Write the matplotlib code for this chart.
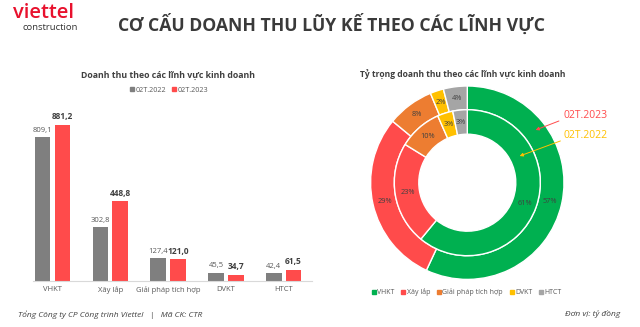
import matplotlib
matplotlib.use("Agg")
import matplotlib.pyplot as plt
from matplotlib.patches import Patch
from matplotlib.lines import Line2D

plt.rcParams['font.family'] = ['Open Sans', 'DejaVu Sans']

# ---- data ----
categories = ["VHKT", "Xây lắp", "Giải pháp tích hợp", "DVKT", "HTCT"]
rev_2022 = [809.1, 302.8, 127.4, 45.5, 42.4]
rev_2023 = [881.2, 448.8, 121.0, 34.7, 61.5]
series_names = ["02T.2022", "02T.2023"]

bar_colors = ["#7f7f7f", "#ff4b4b"]
pie_colors = ["#00b050", "#ff4b4b", "#ed7d31", "#ffc000", "#a5a5a5"]

W, H = 640, 327
fig = plt.figure(figsize=(6.4, 3.27), dpi=100)

def fx(x):
    return x / W

def fy(y):
    return 1 - y / H

def rect(l, t, r, b):
    return [fx(l), fy(b), (r - l) / W, (b - t) / H]

# ---- header ----
fig.text(fx(13), fy(12.5), "viettel", color="#e8112d", fontsize=14.5, fontweight="semibold",
         ha="left", va="center")
fig.text(fx(50), fy(28), "construction", color="#333333", fontsize=6.8,
         ha="center", va="center")
fig.text(fx(118), fy(24), "CƠ CẤU DOANH THU LŨY KẾ THEO CÁC LĨNH VỰC", color="#3a3a3a",
         fontsize=12.7, fontweight="bold", ha="left", va="center")

# ---- bar chart ----
unit = 57.8
ax = fig.add_axes(rect(33, 100.7, 312, 280.7))
x0 = -(52.5 - 33) / unit
ax.set_xlim(x0, x0 + (312 - 33) / unit)
ax.set_ylim(0, 180 / 0.177)
bw = 0.27
off = 0.17
xs = list(range(len(categories)))
ax.bar([x - off for x in xs], rev_2022, width=bw, color=bar_colors[0])
ax.bar([x + off for x in xs], rev_2023, width=bw, color=bar_colors[1])
for x, v in zip(xs, rev_2022):
    ax.annotate(f"{v:.1f}".replace(".", ","), (x - off, v), xytext=(0, 2.5),
                textcoords="offset points", ha="center", va="bottom",
                fontsize=5.5, color="#595959")
for x, v in zip(xs, rev_2023):
    ax.annotate(f"{v:.1f}".replace(".", ","), (x + off, v), xytext=(0, 2.5),
                textcoords="offset points", ha="center", va="bottom",
                fontsize=6, color="#404040", fontweight="bold")
ax.set_xticks(xs)
ax.set_xticklabels(categories, fontsize=5.5, color="#595959")
ax.tick_params(axis="x", length=0, pad=4)
ax.set_yticks([])
for s in ["top", "right", "left"]:
    ax.spines[s].set_visible(False)
ax.spines["bottom"].set_color("#d9d9d9")
ax.spines["bottom"].set_linewidth(0.8)

fig.text(fx(168), fy(75), "Doanh thu theo các lĩnh vực kinh doanh", fontsize=6.3,
         fontweight="bold", color="#404040", ha="center", va="center")
fig.legend([Patch(color=bar_colors[0]), Patch(color=bar_colors[1])], series_names,
           loc="center", bbox_to_anchor=(fx(169), fy(90)), ncol=2, frameon=False,
           fontsize=5.2, handlelength=0.5, handleheight=0.5, handletextpad=0.25,
           columnspacing=0.8, labelcolor="#595959")

# ---- donut chart ----
R = 96.7
cx, cy = 467.3, 182.7
half = 1.1 * R
axp = fig.add_axes(rect(cx - half, cy - half, cx + half, cy + half))
axp.set_aspect("equal")
axp.axis("off")

r_sep = 73 / R
r_hole = 48.5 / R
fmt = lambda p: f"{p:.0f}%"
axp.pie(rev_2023, radius=1.0, colors=pie_colors, startangle=90, counterclock=False,
        wedgeprops=dict(width=1.0 - r_sep, edgecolor="white", linewidth=1.0),
        autopct=fmt, pctdistance=(1.0 + r_sep) / 2,
        textprops=dict(fontsize=5.3, color="#404040"))
axp.pie(rev_2022, radius=r_sep, colors=pie_colors, startangle=90, counterclock=False,
        wedgeprops=dict(width=r_sep - r_hole, edgecolor="white", linewidth=1.0),
        autopct=fmt, pctdistance=((r_sep + r_hole) / 2) / r_sep,
        textprops=dict(fontsize=5.3, color="#404040"))
axp.set_xlim(-1.1, 1.1)
axp.set_ylim(-1.1, 1.1)

fig.text(fx(360), fy(75), "Tỷ trọng doanh thu theo các lĩnh vực kinh doanh", fontsize=6.1,
         fontweight="bold", color="#404040", ha="left", va="center")

# series labels with arrows
fig.text(fx(563), fy(115), series_names[1], color="#ff4b4b", fontsize=7.5, ha="left", va="center")
fig.text(fx(563), fy(136), series_names[0], color="#ffc000", fontsize=7.5, ha="left", va="center")
fig.add_artist(matplotlib.patches.FancyArrowPatch(
    (fx(561.5), fy(120)), (fx(533), fy(131)), transform=fig.transFigure,
    arrowstyle="-|>", mutation_scale=5, color="#ff4b4b", lw=0.7))
fig.add_artist(matplotlib.patches.FancyArrowPatch(
    (fx(563), fy(140)), (fx(517), fy(157)), transform=fig.transFigure,
    arrowstyle="-|>", mutation_scale=5, color="#ffc000", lw=0.7))

handles = [Line2D([], [], marker="s", linestyle="", color=c, markersize=2.3) for c in pie_colors]
fig.legend(handles, categories, loc="center", bbox_to_anchor=(fx(467), fy(292)), ncol=5,
           frameon=False, fontsize=5.0, handlelength=0.5, handletextpad=0.25,
           columnspacing=1.0, labelcolor="#595959")

# ---- footer ----
fig.text(fx(18), fy(315), "Tổng Công ty CP Công trình Viettel   |   Mã CK: CTR", fontsize=6,
         style="italic", color="#404040", ha="left", va="center")
fig.text(fx(620), fy(314), "Đơn vị: tỷ đồng", fontsize=6, style="italic", color="#404040",
         ha="right", va="center")

fig.savefig("out.png", dpi=100)
